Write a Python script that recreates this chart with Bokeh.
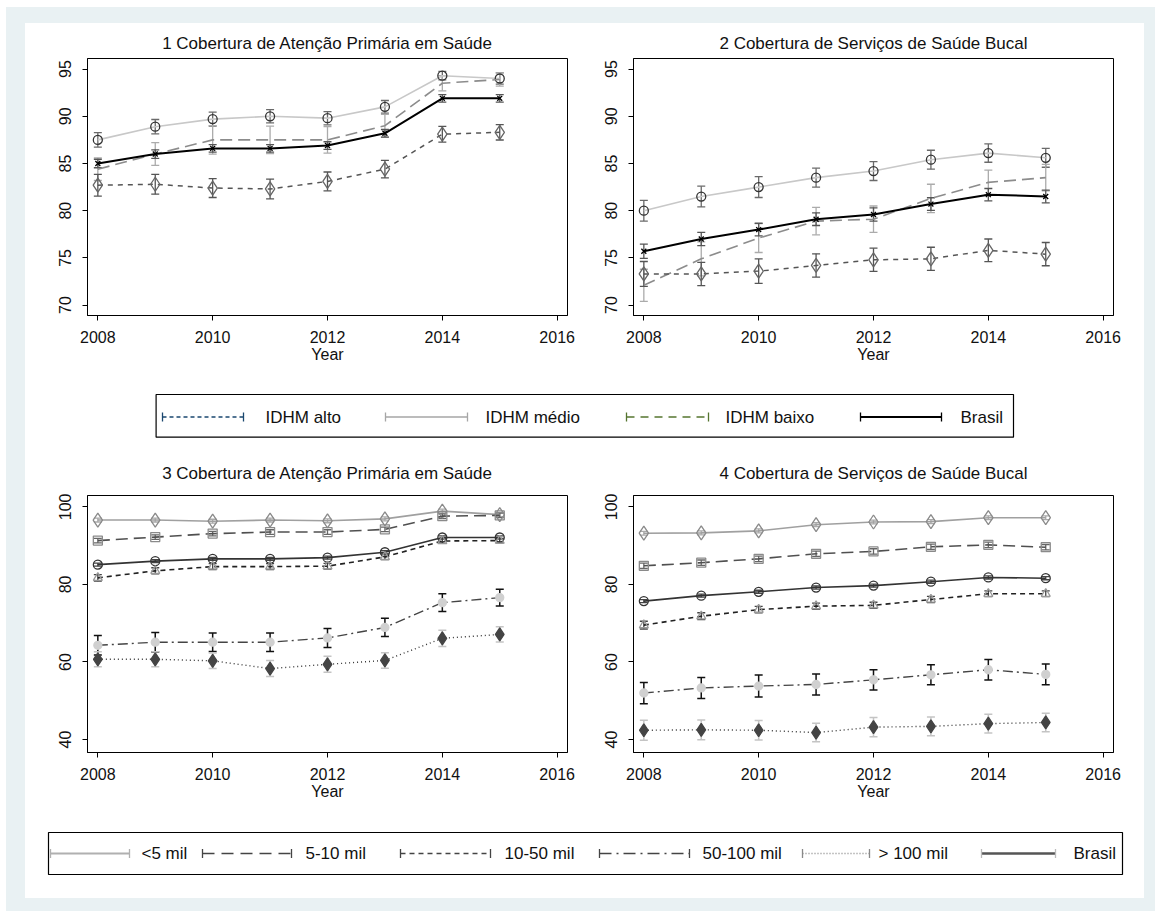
from bokeh.plotting import figure
from bokeh.layouts import column, row
from bokeh.models import Range1d, Whisker, TeeHead, ColumnDataSource, FixedTicker
from bokeh.embed import file_html
from bokeh.resources import INLINE
from bokeh.core.properties import value

FONT = "Liberation Sans"

# ---------------- data ----------------
years = [2008, 2009, 2010, 2011, 2012, 2013, 2014, 2015]
x_ticks = [2008, 2010, 2012, 2014, 2016]
y_ticks_top = [70, 75, 80, 85, 90, 95]
y_ticks_bottom = [40, 60, 80, 100]
x_label = "Year"

titles = ["1 Cobertura de Atenção Primária em Saúde",
          "2 Cobertura de Serviços de Saúde Bucal",
          "3 Cobertura de Atenção Primária em Saúde",
          "4 Cobertura de Serviços de Saúde Bucal"]

idhm_labels = ["IDHM alto", "IDHM médio", "IDHM baixo", "Brasil"]
pop_labels = ["<5 mil", "5-10 mil", "10-50 mil", "50-100 mil", "> 100 mil", "Brasil"]

# Panel 1 - Atenção Primária by IDHM
p1_medio = [87.5, 88.9, 89.7, 90.0, 89.8, 91.0, 94.3, 94.0]
p1_medio_ci = [0.76, 0.76, 0.74, 0.70, 0.70, 0.67, 0.45, 0.60]
p1_baixo = [84.4, 86.0, 87.5, 87.5, 87.5, 89.0, 93.5, 93.9]
p1_baixo_ci = [1.2, 1.2, 1.5, 1.45, 1.4, 1.2, 0.8, 0.7]
p1_brasil = [85.0, 86.0, 86.6, 86.6, 86.9, 88.2, 91.9, 91.9]
p1_brasil_ci = [0.45, 0.45, 0.4, 0.4, 0.4, 0.4, 0.4, 0.4]
p1_alto = [82.7, 82.8, 82.4, 82.3, 83.1, 84.4, 88.1, 88.3]
p1_alto_ci = [1.15, 1.05, 1.0, 1.05, 1.0, 0.93, 0.83, 0.81]

# Panel 2 - Saúde Bucal by IDHM
p2_medio = [80.0, 81.5, 82.5, 83.5, 84.2, 85.4, 86.1, 85.6]
p2_medio_ci = [1.1, 1.1, 1.1, 1.0, 1.0, 1.0, 0.97, 1.0]
p2_baixo = [72.1, 74.9, 77.1, 78.9, 79.1, 81.3, 83.0, 83.5]
p2_baixo_ci = [1.7, 1.8, 1.53, 1.46, 1.4, 1.5, 1.3, 1.4]
p2_brasil = [75.7, 77.0, 78.0, 79.1, 79.6, 80.7, 81.7, 81.5]
p2_brasil_ci = [0.76, 0.7, 0.67, 0.67, 0.7, 0.67, 0.65, 0.67]
p2_alto = [73.3, 73.3, 73.6, 74.2, 74.8, 74.9, 75.8, 75.4]
p2_alto_ci = [1.32, 1.23, 1.29, 1.23, 1.23, 1.23, 1.2, 1.23]

# Panel 3 - Atenção Primária by population size
p3_lt5 = [96.6, 96.6, 96.3, 96.6, 96.4, 96.9, 98.9, 98.0]
p3_lt5_ci = [0.5] * 8
p3_5_10 = [91.3, 92.2, 93.1, 93.5, 93.5, 94.2, 97.6, 97.8]
p3_5_10_ci = [0.6] * 8
p3_brasil = [85.1, 86.0, 86.6, 86.6, 86.9, 88.3, 92.1, 92.1]
p3_brasil_ci = [0.4] * 8
p3_10_50 = [81.7, 83.5, 84.6, 84.6, 84.7, 87.1, 91.2, 91.3]
p3_10_50_ci = [0.85, 0.8, 0.75, 0.75, 0.75, 0.7, 0.6, 0.6]
p3_50_100 = [64.3, 65.1, 65.1, 65.1, 66.2, 68.9, 75.3, 76.6]
p3_50_100_ci = [2.5, 2.5, 2.4, 2.4, 2.45, 2.36, 2.27, 2.14]
p3_gt100 = [60.7, 60.7, 60.3, 58.3, 59.4, 60.4, 66.1, 67.1]
p3_gt100_ci = [1.93, 1.93, 2.0, 2.06, 2.05, 2.0, 2.1, 1.97]

# Panel 4 - Saúde Bucal by population size
p4_lt5 = [93.2, 93.3, 93.8, 95.4, 96.1, 96.2, 97.2, 97.2]
p4_lt5_ci = [0.5] * 8
p4_5_10 = [84.8, 85.6, 86.6, 87.9, 88.5, 89.7, 90.2, 89.6]
p4_5_10_ci = [0.7] * 8
p4_brasil = [75.7, 77.1, 78.1, 79.2, 79.7, 80.7, 81.8, 81.6]
p4_brasil_ci = [0.4] * 8
p4_10_50 = [69.5, 71.8, 73.5, 74.4, 74.6, 76.1, 77.6, 77.6]
p4_10_50_ci = [1.0, 0.9, 0.85, 0.8, 0.8, 0.8, 0.75, 0.75]
p4_50_100 = [52.0, 53.3, 53.8, 54.2, 55.4, 56.7, 58.0, 56.8]
p4_50_100_ci = [2.74, 2.7, 2.83, 2.7, 2.6, 2.6, 2.65, 2.65]
p4_gt100 = [42.4, 42.5, 42.4, 41.8, 43.2, 43.4, 44.1, 44.4]
p4_gt100_ci = [2.57, 2.57, 2.5, 2.4, 2.5, 2.4, 2.44, 2.36]


# ---------------- helpers ----------------
def panel(title, yr, yticks, width, height, mbl, mbr, mbt, mbb, standoff):
    p = figure(width=width, height=height, x_range=Range1d(2007.82, 2016.18),
               y_range=Range1d(*yr), output_backend="svg", toolbar_location=None,
               min_border_left=mbl, min_border_right=mbr, min_border_top=mbt,
               min_border_bottom=mbb, title=title,
               background_fill_color="white", border_fill_color="white")
    p.outline_line_color = "black"
    p.outline_line_width = 1
    p.grid.visible = False
    p.title.align = "center"
    p.title.text_font = FONT
    p.title.text_font_size = "17px"
    p.title.text_font_style = "normal"
    p.title.text_color = "#111111"
    p.title.standoff = standoff
    for ax in (p.xaxis[0], p.yaxis[0]):
        ax.axis_line_color = "black"
        ax.major_tick_line_color = "black"
        ax.major_tick_in = 0
        ax.major_tick_out = 5
        ax.minor_tick_line_color = None
        ax.major_label_text_font = FONT
        ax.major_label_text_font_size = "16px"
        ax.major_label_text_color = "#111111"
    p.xaxis.ticker = FixedTicker(ticks=x_ticks)
    p.yaxis.ticker = FixedTicker(ticks=yticks)
    p.yaxis.major_label_orientation = "vertical"
    p.yaxis.major_label_standoff = 11
    p.xaxis.major_label_standoff = 10
    p.xaxis.axis_label = x_label
    p.xaxis.axis_label_text_font = FONT
    p.xaxis.axis_label_text_font_size = "16px"
    p.xaxis.axis_label_text_font_style = "normal"
    p.xaxis.axis_label_text_color = "#111111"
    p.xaxis.axis_label_standoff = 0
    return p


def series(p, y, ci, color, dash, lw, marker=None, msize=9, mline="#333333",
           mfill=None, ecolor="#666666", ew=1.3):
    src = ColumnDataSource(dict(x=years, y=y,
                                lo=[a - b for a, b in zip(y, ci)],
                                hi=[a + b for a, b in zip(y, ci)]))
    p.add_layout(Whisker(source=src, base="x", lower="lo", upper="hi",
                         line_color=ecolor, line_width=ew,
                         upper_head=TeeHead(size=8, line_color=ecolor, line_width=ew),
                         lower_head=TeeHead(size=8, line_color=ecolor, line_width=ew)))
    p.line("x", "y", source=src, line_color=color, line_dash=dash, line_width=lw)
    if marker:
        p.scatter("x", "y", source=src, marker=marker, size=msize, line_color=mline,
                  fill_color=mfill, line_width=1.3)


def legend_fig(height, ytop, ybot):
    f = figure(width=1119, height=height, x_range=Range1d(25, 1144),
               y_range=Range1d(ybot, ytop), output_backend="svg", toolbar_location=None,
               x_axis_type=None, y_axis_type=None, min_border=0,
               outline_line_color=None, background_fill_color="white",
               border_fill_color="white")
    return f


def legend_item(f, x0, x1, yc, color, dash, lw, capcolor=None):
    cc = capcolor or color
    f.segment(x0=[x0], y0=[yc], x1=[x1], y1=[yc], line_color=color, line_dash=dash,
              line_width=lw)
    f.segment(x0=[x0, x1], y0=[yc - 4.5, yc - 4.5], x1=[x0, x1], y1=[yc + 4.5, yc + 4.5],
              line_color=cc, line_width=1.3)


# ---------------- panels ----------------
yr_top = (68.9, 96.12)
yr_bot = (36.66, 102.93)

p1 = panel(titles[0], yr_top, y_ticks_top, 572, 352, 62, 30, 35, 60, 12)
series(p1, p1_medio, p1_medio_ci, "#c8c8c8", "solid", 1.6, "circle", 9, "#333333", None, "#6a6a6a")
series(p1, p1_baixo, p1_baixo_ci, "#8c8c8c", "12 6", 1.6, None, ecolor="#ababab")
series(p1, p1_brasil, p1_brasil_ci, "#000000", "solid", 2.0, "x", 7, "#000000", None, "#555555")
series(p1, p1_alto, p1_alto_ci, "#555555", "5 5", 1.5, "diamond", 14, "#666666", None, "#555555")

p2 = panel(titles[1], yr_top, y_ticks_top, 547, 352, 36, 31, 35, 60, 12)
series(p2, p2_medio, p2_medio_ci, "#c8c8c8", "solid", 1.6, "circle", 9, "#333333", None, "#6a6a6a")
series(p2, p2_baixo, p2_baixo_ci, "#8c8c8c", "12 6", 1.6, None, ecolor="#ababab")
series(p2, p2_brasil, p2_brasil_ci, "#000000", "solid", 2.0, "x", 7, "#000000", None, "#555555")
series(p2, p2_alto, p2_alto_ci, "#555555", "5 5", 1.5, "diamond", 14, "#666666", None, "#555555")

p3 = panel(titles[2], yr_bot, y_ticks_bottom, 572, 369, 62, 30, 46, 65, 26)
series(p3, p3_lt5, p3_lt5_ci, "#a0a0a0", "solid", 1.6, "diamond", 14, "#8a8a8a", None, "#aaaaaa")
series(p3, p3_5_10, p3_5_10_ci, "#505050", "12 6", 1.6, "square", 9, "#8a8a8a", None, "#666666")
series(p3, p3_brasil, p3_brasil_ci, "#333333", "solid", 1.6, "circle", 9, "#333333", None, "#444444")
series(p3, p3_10_50, p3_10_50_ci, "#222222", "5 4", 1.6, "triangle", 9, "#999999", None, "#444444")
series(p3, p3_50_100, p3_50_100_ci, "#444444", "10 4 2 4", 1.4, "circle", 8, "#d0d0d0", "#d0d0d0", "#111111", 1.5)
series(p3, p3_gt100, p3_gt100_ci, "#333333", "1 3", 1.4, "diamond", 13, "#444444", "#444444", "#c4c4c4", 1.5)

p4 = panel(titles[3], yr_bot, y_ticks_bottom, 547, 369, 36, 31, 46, 65, 26)
series(p4, p4_lt5, p4_lt5_ci, "#a0a0a0", "solid", 1.6, "diamond", 14, "#8a8a8a", None, "#aaaaaa")
series(p4, p4_5_10, p4_5_10_ci, "#505050", "12 6", 1.6, "square", 9, "#8a8a8a", None, "#666666")
series(p4, p4_brasil, p4_brasil_ci, "#333333", "solid", 1.6, "circle", 9, "#333333", None, "#444444")
series(p4, p4_10_50, p4_10_50_ci, "#222222", "5 4", 1.6, "triangle", 9, "#999999", None, "#444444")
series(p4, p4_50_100, p4_50_100_ci, "#444444", "10 4 2 4", 1.4, "circle", 8, "#d0d0d0", "#d0d0d0", "#111111", 1.5)
series(p4, p4_gt100, p4_gt100_ci, "#333333", "1 3", 1.4, "diamond", 13, "#444444", "#444444", "#c4c4c4", 1.5)

# ---------------- legends ----------------
leg1 = legend_fig(73, 375, 448)
leg1.quad(left=[155.6], right=[1013], top=[394], bottom=[436.7], fill_color=None,
          line_color="black", line_width=1.2)
ly1 = 416.5
legend_item(leg1, 162, 243, ly1, "#1a476f", "4 3", 1.5)
legend_item(leg1, 385, 467, ly1, "#a6a6a6", "solid", 1.5)
legend_item(leg1, 626, 708, ly1, "#55752f", "8 6", 1.5)
legend_item(leg1, 860, 941, ly1, "#000000", "solid", 2.0)
leg1.text(x=[265, 485, 725, 960], y=[ly1] * 4, text=idhm_labels,
          text_font=value(FONT), text_font_size=value("17px"), text_baseline="middle",
          text_align="left", text_color="#111111")

leg2 = legend_fig(81, 817, 898)
leg2.quad(left=[48], right=[1122], top=[832], bottom=[874], fill_color=None,
          line_color="black", line_width=1.2)
ly2 = 853
legend_item(leg2, 50, 129, ly2, "#b0b0b0", "solid", 1.8)
legend_item(leg2, 202, 291, ly2, "#444444", "12 7", 1.5)
legend_item(leg2, 400, 490, ly2, "#444444", "5 4", 1.4)
legend_item(leg2, 599, 689, ly2, "#444444", "12 5 2 5", 1.4)
legend_item(leg2, 802, 869, ly2, "#888888", "1 2", 1.4)
legend_item(leg2, 981, 1055, ly2, "#555555", "solid", 2.5, capcolor="#bbbbbb")
leg2.text(x=[141, 305, 504, 702, 878, 1073], y=[ly2] * 6, text=pop_labels,
          text_font=value(FONT), text_font_size=value("17px"), text_baseline="middle",
          text_align="left", text_color="#111111")

# ---------------- layout ----------------
inner = column(row(p1, p2), leg1, row(p3, p4), leg2,
               styles={"background-color": "white"}, margin=(16, 11, 13, 19))
root = column(inner, styles={"background-color": "#e9f1f3"}, margin=(7, 0, 0, 6))

open("out.html", "w").write(file_html(root, INLINE, title="Cobertura"))
